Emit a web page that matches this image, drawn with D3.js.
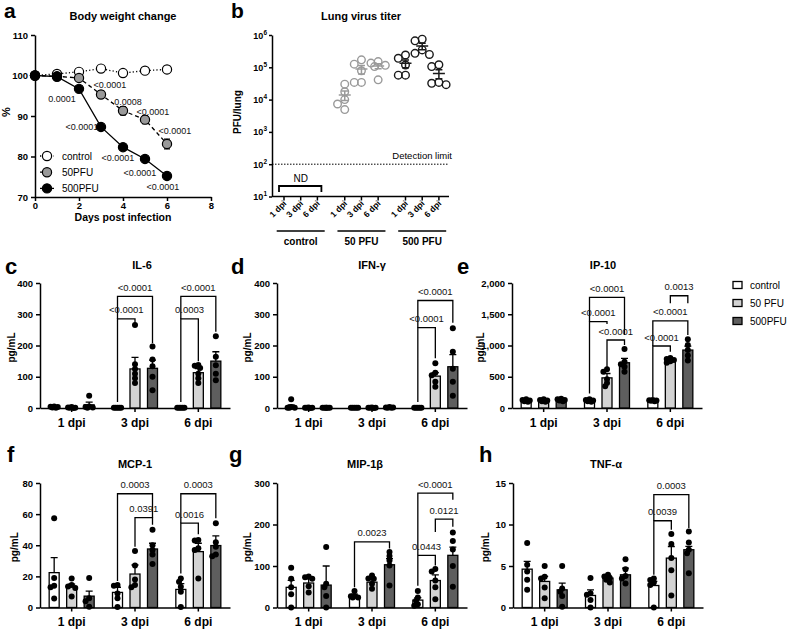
<!DOCTYPE html>
<html><head><meta charset="utf-8">
<script src="https://cdn.jsdelivr.net/npm/d3@7"></script>
<style>body{margin:0;background:#fff}</style>
</head><body>
<svg id="chart" width="792" height="630"></svg>
<script>
// ---------------- DATA ----------------
// a: body weight
const bwDays = [0,1,2,3,4,5,6];
const bwXTicks = [0,2,4,6,8];
const bwYTicks = [70,80,90,100,110];
const bwControl = [100, 100.4, 100.9, 101.7, 100.6, 101.2, 101.5];
const bw50 = [100, 99.8, 99.4, 95.3, 91.3, 89.1, 83.1];
const bw500 = [100, 99.7, 96.7, 87.3, 82.3, 79.4, 75.2];
const bwSemControl = [0, 0.3, 0.3, 0.3, 0.3, 0.3, 0.3];
const bwSem50 = [0, 0.3, 0.5, 0.9, 1.0, 1.0, 1.2];
const bwSem500 = [0, 0.3, 0.5, 0.5, 0.5, 0.5, 0.5];
const bwP50 = ["", "", "", "<0.0001", "0.0008", "<0.0001", "<0.0001"];
const bwP500 = ["", "", "0.0001", "<0.0001", "<0.0001", "<0.0001", "<0.0001"];
const bwLegend = ["control", "50PFU", "500PFU"];

// b: lung virus titer
const titerGroups = ["control", "50 PFU", "500 PFU"];
const titerDays = ["1 dpi", "3 dpi", "6 dpi"];
const titer50 = [[30000, 17500, 10000, 7300, 4900], [170000, 125000, 78000, 34000, 34000], [150000, 135000, 115000, 105000, 41000]];
const titer500 = [[240000, 190000, 118000, 57000, 57000], [740000, 660000, 345000, 270000, 250000], [120000, 105000, 34000, 32000, 29000]];
const titerTicks = [10, 100, 1000, 10000, 100000, 1000000];
const detectionLimit = 100;

// cytokine panels
const dpiLabels = ["1 dpi", "3 dpi", "6 dpi"];
const cytoGroups = ["control", "50 PFU", "500PFU"];

const il6Mean = [[3, 1.5, 10], [1, 125, 127], [1, 113, 150]];
const il6Sem = [[1, 0.5, 9], [0.3, 37, 26], [0.3, 13, 30]];
const il6Dots = [[[5,3,2,1,4],[2,1,0,3,1],[39,5,3,2,1]], [[1,1,1,1,1],[266,140,125,110,95,80],[197,155,134,100,57]], [[1,1,1,1,1],[138,135,128,110,95,80],[230,164,137,110,89]]];
const il6Brackets = [[1,0,2,357,285,207,"<0.0001"],[1,0,1,285,19,273,"<0.0001"],[2,0,2,357,285,244,"<0.0001"],[2,0,1,285,19,150,"0.0003"]];
const il6Ticks = [0,100,200,300,400];

const ifnMean = [[5, 1, 1], [1, 1, 2], [1, 102, 132]];
const ifnSem = [[5, 0.5, 0.5], [0.3, 0.5, 0.5], [0.3, 11, 39]];
const ifnDots = [[[28,3,1,1,1],[2,1,1,0,1],[1,1,1,1,1,1]], [[1,1,1,1,1],[2,1,1,1,0],[3,2,2,1,1]], [[0.5,0.5,0.5,0.5,0.5],[143,113,105,84,68],[255,180,126,84,39]]];
const ifnBrackets = [[2,0,2,344,257,273,"<0.0001"],[2,0,1,257,19,159,"<0.0001"]];
const ifnTicks = [0,100,200,300,400];

const ip10Mean = [[120, 120, 130], [120, 482, 724], [120, 766, 927]];
const ip10Sem = [[10, 10, 10], [10, 70, 69], [8, 15, 63]];
const ip10Dots = [[[140,130,120,110,100],[140,130,120,110,100],[150,140,130,120,110]], [[140,130,120,110,100],[620,580,460,400,350],[943,740,700,660,580]], [[130,125,120,115,110],[800,785,770,750,725],[1100,1010,930,840,760]]];
const ip10Brackets = [[1,0,2,1769,1383,1169,"<0.0001"],[1,0,1,1383,231,1346,"<0.0001"],[1,1,2,1088,633,1008,"<0.0001"],[2,1,2,1796,1678,1678,"0.0013"],[2,0,2,1394,992,1169,"<0.0001"],[2,0,1,992,177,901,"<0.0001"]];
const ip10Ticks = [0,500,1000,1500,2000];

const mcpMean = [[22.4, 13.5, 7.3], [9.7, 21.5, 37.6], [11.6, 35.9, 39.8]];
const mcpSem = [[9.6, 1.5, 3.2], [3.3, 5.8, 3.7], [3.7, 5.4, 6.2]];
const mcpDots = [[[57.4,19,14,13,5.8],[18.7,14.5,13.5,12.5,7],[19,6,4,0.5]], [[14.4,14,9,6,0.4],[36.3,27,18,14.5,13],[50,40,37,34,28]], [[18.7,16.6,13.3,10.1,0.4],[43.4,43,38,37,18.7],[54.2,42,39,34,33]]];
const mcpBrackets = [[1,0,2,73.1,17,57.8,"0.0003"],[1,1,2,57.8,39.1,53.1,"0.0391"],[2,0,2,73.1,54.2,57.4,"0.0003"],[2,0,1,54.2,21.9,47.1,"0.0016"]];
const mcpTicks = [0,20,40,60,80];

const mipMean = [[48.6, 59, 54], [28, 61, 103], [17.8, 65, 125.7]];
const mipSem = [[17, 10, 46], [4, 8, 15], [6, 13.6, 20]];
const mipDots = [[[96,69,49,32,0],[75,73,69,51,36],[146,57,49,28,0]], [[40,28,27,24,24],[77,70,69,57,45],[134,124,113,101,53]], [[40,24,16,8,4],[93,87,65,49,20],[181,160,140,100,50]]];
const mipBrackets = [[1,0,2,158,48.6,142,"0.0023"],[2,0,2,275.7,125.7,259.5,"<0.0001"],[2,1,2,213,182,194.6,"0.0121"],[2,0,1,125.7,52.7,101,"0.0443"]];
const mipTicks = [0,100,200,300];

const tnfMean = [[4.62, 3.14, 2.13], [1.45, 3.54, 3.94], [2.65, 5.95, 6.96]];
const tnfSem = [[0.93, 0.6, 0.8], [0.68, 0.32, 0.8], [0.5, 1.4, 0.4]];
const tnfDots = [[[7.76,5.15,4.34,3.34,2.13],[5.0,3.7,3.5,2.4,1.1],[5.0,2.3,1.9,1.4,0.1]], [[3.54,1.73,1.53,0.9,0],[3.94,3.74,3.54,3.34,3.0],[5.8,4.6,3.8,3.5,2.9]], [[3.5,3.3,3.0,2.7,0],[8.85,7.64,5.95,4.5,1.45],[9.17,7.84,6.96,6.55,4.14]]];
const tnfBrackets = [[2,0,2,13.59,10.45,9.57,"0.0003"],[2,0,1,10.45,3.94,9.37,"0.0039"]];
const tnfTicks = [0,5,10,15];

// ---------------- DRAWING ----------------
const FONT = '"Liberation Sans", Arial, Helvetica, sans-serif';
const svg = d3.select("#chart").attr("font-family", FONT);

function styleAxis(g, fs) {
  g.attr("font-family", FONT).attr("font-size", fs);
  g.select(".domain").attr("stroke", "#000").attr("stroke-width", 1.5);
  g.selectAll(".tick line").attr("stroke", "#000").attr("stroke-width", 1.5);
  g.selectAll(".tick text").attr("fill", "#000").attr("font-weight", "bold");
}
function text(g, x, y, s, o = {}) {
  const t = g.append("text").attr("x", x).attr("y", y).text(s)
    .attr("font-size", o.size || 10).attr("font-weight", o.bold ? "bold" : "normal")
    .attr("text-anchor", o.anchor || "start").attr("fill", o.fill || "#000");
  if (o.rotate) t.attr("transform", `rotate(${o.rotate},${x},${y})`);
  return t;
}
function swarm(ys, minD, maxOff) {
  const order = ys.map((y, i) => ({ y, i })).sort((a, b) => a.y - b.y);
  const off = new Array(ys.length).fill(0), placed = [];
  const step = minD / 2;
  order.forEach(p => {
    const c = [0];
    for (let k = 1; k * step <= maxOff + 0.01; k++) c.push(-k * step, k * step);
    let chosen = null, best = -1, bestC = 0;
    for (const cc of c) {
      const md = placed.length ? d3.min(placed, q => Math.hypot(q.x - cc, q.y - p.y)) : Infinity;
      if (md >= minD) { chosen = cc; break; }
      if (md > best) { best = md; bestC = cc; }
    }
    if (chosen === null) chosen = bestC;
    off[p.i] = chosen; placed.push({ x: chosen, y: p.y });
  });
  return off;
}

// ---------- Panel a ----------
(function () {
  const g = svg.append("g");
  const x = d3.scaleLinear().domain([0, 8]).range([35, 211]);
  const y = d3.scaleLinear().domain([70, 110]).range([197, 35]);
  g.append("g").attr("transform", "translate(0,197)")
    .call(d3.axisBottom(x).tickValues(bwXTicks).tickSize(4).tickSizeOuter(0).tickPadding(1.5))
    .call(a => styleAxis(a, 9.5));
  g.append("g").attr("transform", "translate(35,0)")
    .call(d3.axisLeft(y).tickValues(bwYTicks).tickSize(4).tickSizeOuter(0).tickPadding(3))
    .call(a => styleAxis(a, 9.5));
  text(g, 4, 18, "a", { size: 21, bold: true });
  text(g, 123, 20, "Body weight change", { size: 11, bold: true, anchor: "middle" });
  text(g, 123, 221, "Days post infection", { size: 10.5, bold: true, anchor: "middle" });
  text(g, 10, 112, "%", { size: 11, bold: true, anchor: "middle", rotate: -90 });

  const series = [
    { v: bwControl, s: bwSemControl, fill: "#fff", dash: "1.2,2.2" },
    { v: bw50, s: bwSem50, fill: "#999", dash: "4,3" },
    { v: bw500, s: bwSem500, fill: "#000", dash: null }
  ];
  const line = d3.line().x((d, i) => x(bwDays[i])).y(d => y(d));
  series.forEach(se => {
    g.append("path").attr("d", line(se.v)).attr("fill", "none").attr("stroke", "#000")
      .attr("stroke-width", 1.3).attr("stroke-dasharray", se.dash);
    se.v.forEach((v, i) => {
      if (se.s[i] > 0) {
        const xx = x(bwDays[i]);
        g.append("path").attr("d", `M${xx},${y(v - se.s[i])}V${y(v + se.s[i])}M${xx - 3},${y(v - se.s[i])}H${xx + 3}M${xx - 3},${y(v + se.s[i])}H${xx + 3}`)
          .attr("stroke", "#000").attr("stroke-width", 1.2);
      }
    });
    g.selectAll(null).data(se.v).join("circle").attr("cx", (d, i) => x(bwDays[i])).attr("cy", d => y(d))
      .attr("r", 4.6).attr("fill", se.fill).attr("stroke", "#000").attr("stroke-width", 1.2);
  });
  const off50 = [null, null, null, [9, -10], [5, -9], [8, -8], [8, -13]];
  const off500 = [null, null, [-17, 10], [-19, 0], [-5, 11], [-5, 14], [-4, 11]];
  [[bw50, bwP50, off50], [bw500, bwP500, off500]].forEach(([vals, ps, offs]) => {
    ps.forEach((p, i) => {
      if (!p) return;
      text(g, x(bwDays[i]) + offs[i][0], y(vals[i]) + offs[i][1] + 3.2, p, { size: 9, anchor: "middle", fill: "#111" });
    });
  });
  // legend
  const fills = ["#fff", "#999", "#000"], dashes = ["1.2,2.2", "4,3", null];
  bwLegend.forEach((l, i) => {
    const yy = 156 + i * 16.2;
    g.append("line").attr("x1", 40).attr("x2", 54).attr("y1", yy).attr("y2", yy).attr("stroke", "#000")
      .attr("stroke-width", 1.3).attr("stroke-dasharray", dashes[i]);
    g.append("circle").attr("cx", 47).attr("cy", yy).attr("r", 4.6).attr("fill", fills[i]).attr("stroke", "#000").attr("stroke-width", 1.2);
    text(g, 62, yy + 3.5, l, { size: 10 });
  });
})();

// ---------- Panel b ----------
(function () {
  const g = svg.append("g");
  const y = d3.scaleLog().domain([10, 1e6]).range([196.5, 35]);
  const gx = d3.scaleLinear().domain([0, 2]).range([284, 405.5]);
  const kx = d3.scaleLinear().domain([0, 2]).range([0, 33.4]);
  const xAt = (gi, k) => gx(gi) + kx(k);
  text(g, 231, 18, "b", { size: 21, bold: true });
  text(g, 361, 20, "Lung virus titer", { size: 11, bold: true, anchor: "middle" });
  text(g, 241, 112, "PFU/lung", { size: 10, bold: true, anchor: "middle", rotate: -90 });
  // y axis
  g.append("g").attr("transform", "translate(272,0)")
    .call(d3.axisLeft(y).tickValues(titerTicks).tickFormat("").tickSize(3).tickSizeOuter(0))
    .call(a => styleAxis(a, 9));
  titerTicks.forEach(t => {
    const tt = text(g, 267, y(t) + 3.5, "10", { size: 9, bold: true, anchor: "end" });
    tt.append("tspan").attr("dy", -4).attr("font-size", 6.5).text(String(Math.round(Math.log10(t))));
  });
  // x axis
  g.append("line").attr("x1", 272).attr("x2", 449).attr("y1", 196.5).attr("y2", 196.5).attr("stroke", "#000").attr("stroke-width", 1.5);
  [0, 1, 2].forEach(gi => titerDays.forEach((d, k) => {
    const xx = xAt(gi, k);
    g.append("line").attr("x1", xx).attr("x2", xx).attr("y1", 196.5).attr("y2", 200.5).attr("stroke", "#000").attr("stroke-width", 1.5);
    text(g, xx + 3, 204, d, { size: 8.5, bold: true, anchor: "end", rotate: -45 });
  }));
  titerGroups.forEach((gr, gi) => {
    const c = xAt(gi, 1);
    g.append("line").attr("x1", c - 24).attr("x2", c + 24).attr("y1", 231).attr("y2", 231).attr("stroke", "#000").attr("stroke-width", 1.6);
    text(g, c, 245, gr, { size: 10, bold: true, anchor: "middle" });
  });
  // detection limit
  g.append("line").attr("x1", 272).attr("x2", 449).attr("y1", y(detectionLimit)).attr("y2", y(detectionLimit))
    .attr("stroke", "#000").attr("stroke-width", 1).attr("stroke-dasharray", "1.5,1.5");
  text(g, 452, y(detectionLimit) - 5, "Detection limit", { size: 9.5, anchor: "end" });
  // ND bracket
  g.append("path").attr("d", `M${xAt(0, 0) - 5},192V186H${xAt(0, 2) + 4}V192`).attr("fill", "none").attr("stroke", "#000").attr("stroke-width", 1.8);
  text(g, xAt(0, 1), 182, "ND", { size: 10, anchor: "middle" });
  // points
  [[titer50, "#9a9a9a", 1], [titer500, "#1a1a1a", 2]].forEach(([arr, col, gi]) => {
    arr.forEach((pts, k) => {
      const cx = xAt(gi, k);
      const ys = pts.map(v => y(v));
      const off = swarm(ys, 7.2, 8);
      pts.forEach((v, j) => {
        g.append("circle").attr("cx", cx + off[j]).attr("cy", ys[j]).attr("r", 3.8)
          .attr("fill", "none").attr("stroke", col).attr("stroke-width", 1.4);
      });
      const m = d3.mean(pts), sem = d3.deviation(pts) / Math.sqrt(pts.length);
      g.append("path").attr("d", `M${cx - 6},${y(m)}H${cx + 6}M${cx},${y(m - sem)}V${y(m + sem)}M${cx - 3.5},${y(m - sem)}H${cx + 3.5}M${cx - 3.5},${y(m + sem)}H${cx + 3.5}`)
        .attr("stroke", col).attr("stroke-width", 1.5).attr("fill", "none");
    });
  });
})();

// ---------- Bar panels ----------
const barFill = ["#ffffff", "#d3d3d3", "#5e5e5e"];
function barPanel(p) {
  const g = svg.append("g");
  const x = d3.scaleBand().domain(dpiLabels).range([p.x0, p.x0 + 190]);
  const xs = d3.scaleBand().domain(cytoGroups).range([-26.25, 26.25]);
  const y = d3.scaleLinear().domain([0, p.max]).range([p.yZero, p.yTop]);
  const cx = (i, j) => x(dpiLabels[i]) + x.bandwidth() / 2 + xs(cytoGroups[j]) + xs.bandwidth() / 2;
  const bw = 10;
  g.append("g").attr("transform", `translate(0,${p.yZero})`)
    .call(d3.axisBottom(x).tickSize(4).tickSizeOuter(0).tickPadding(6))
    .call(a => styleAxis(a, 12));
  g.append("g").attr("transform", `translate(${p.x0},0)`)
    .call(d3.axisLeft(y).tickValues(p.ticks).tickFormat(p.fmt || d3.format("d")).tickSize(4).tickSizeOuter(0).tickPadding(3))
    .call(a => styleAxis(a, 9.5));
  text(g, p.letterX, p.letterY, p.letter, { size: 22, bold: true });
  text(g, p.titleX, p.titleY, p.title, { size: 11, bold: true, anchor: "middle" });
  text(g, p.labX, (p.yZero + p.yTop) / 2 + 2, "pg/mL", { size: 10, bold: true, anchor: "middle", rotate: -90 });
  p.mean.forEach((row, i) => row.forEach((m, j) => {
    const c = cx(i, j);
    g.append("rect").attr("x", c - bw / 2).attr("width", bw).attr("y", y(m)).attr("height", p.yZero - y(m))
      .attr("fill", barFill[j]).attr("stroke", "#000").attr("stroke-width", 1.3);
  }));
  p.mean.forEach((row, i) => row.forEach((m, j) => {
    const c = cx(i, j), top = y(m + p.sem[i][j]);
    g.append("path").attr("d", `M${c},${y(m)}V${top}M${c - 3.5},${top}H${c + 3.5}`)
      .attr("stroke", "#000").attr("stroke-width", 1.3).attr("fill", "none");
  }));
  p.dots.forEach((row, i) => row.forEach((pts, j) => {
    const c = cx(i, j);
    const ys = pts.map(v => y(v));
    const off = swarm(ys, 3.6, 5);
    pts.forEach((v, k) => g.append("circle").attr("cx", c + off[k]).attr("cy", ys[k]).attr("r", 3).attr("fill", "#000"));
  }));
  p.brackets.forEach(([i, a, b, lvl, lb, rb, lab]) => {
    const xa = cx(i, a), xb = cx(i, b);
    g.append("path").attr("d", `M${xa},${y(lb)}V${y(lvl)}H${xb}V${y(rb)}`)
      .attr("fill", "none").attr("stroke", "#000").attr("stroke-width", 1.3);
    text(g, (xa + xb) / 2, y(lvl) - 5.5, lab, { size: 9.5, anchor: "middle", fill: "#111" });
  });
}
const fmtComma = d3.format(",");
barPanel({ x0: 40, yTop: 283, yZero: 408, max: 400, ticks: il6Ticks, mean: il6Mean, sem: il6Sem, dots: il6Dots, brackets: il6Brackets,
  title: "IL-6", titleX: 142, titleY: 269, letter: "c", letterX: 5, letterY: 274, labX: 15 });
barPanel({ x0: 277, yTop: 283, yZero: 408, max: 400, ticks: ifnTicks, mean: ifnMean, sem: ifnSem, dots: ifnDots, brackets: ifnBrackets,
  title: "IFN-γ", titleX: 372, titleY: 269, letter: "d", letterX: 231, letterY: 274, labX: 251 });
barPanel({ x0: 512, yTop: 283, yZero: 408, max: 2000, ticks: ip10Ticks, fmt: fmtComma, mean: ip10Mean, sem: ip10Sem, dots: ip10Dots, brackets: ip10Brackets,
  title: "IP-10", titleX: 603, titleY: 269, letter: "e", letterX: 457, letterY: 274, labX: 484 });
barPanel({ x0: 40, yTop: 483, yZero: 607.5, max: 80, ticks: mcpTicks, mean: mcpMean, sem: mcpSem, dots: mcpDots, brackets: mcpBrackets,
  title: "MCP-1", titleX: 135, titleY: 468, letter: "f", letterX: 7, letterY: 462, labX: 18 });
barPanel({ x0: 277, yTop: 483, yZero: 607.5, max: 300, ticks: mipTicks, mean: mipMean, sem: mipSem, dots: mipDots, brackets: mipBrackets,
  title: "MIP-1β", titleX: 365, titleY: 468, letter: "g", letterX: 229, letterY: 462, labX: 251 });
barPanel({ x0: 513, yTop: 483, yZero: 607.5, max: 15, ticks: tnfTicks, mean: tnfMean, sem: tnfSem, dots: tnfDots, brackets: tnfBrackets,
  title: "TNF-α", titleX: 606, titleY: 468, letter: "h", letterX: 479, letterY: 462, labX: 489 });

// legend for bar panels
(function () {
  const g = svg.append("g");
  cytoGroups.forEach((l, i) => {
    const yy = 285 + i * 18;
    g.append("rect").attr("x", 733).attr("y", yy - 3.5).attr("width", 9).attr("height", 7)
      .attr("fill", barFill[i]).attr("stroke", "#000").attr("stroke-width", 1.3);
    text(g, 750, yy + 3.5, l, { size: 10 });
  });
})();
</script>
</body></html>
